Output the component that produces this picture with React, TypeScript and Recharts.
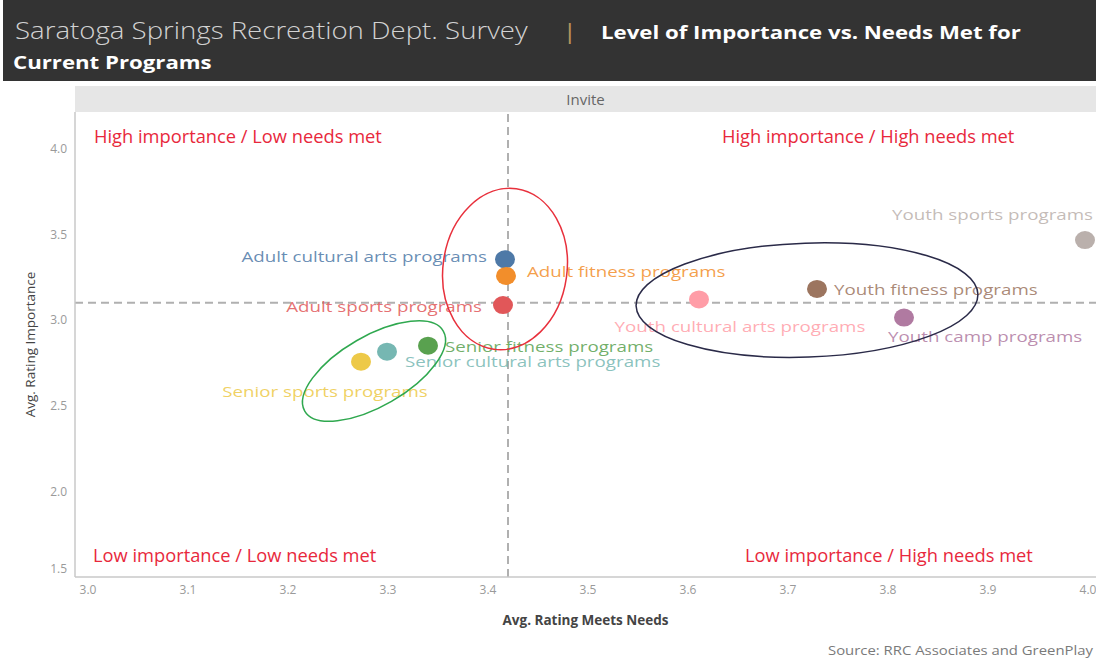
import React from 'react';
import { ScatterChart, Scatter, XAxis, YAxis, ReferenceLine, ReferenceDot } from 'recharts';

const programs = [
  'Adult cultural arts programs',
  'Adult fitness programs',
  'Adult sports programs',
  'Senior fitness programs',
  'Senior cultural arts programs',
  'Senior sports programs',
  'Youth cultural arts programs',
  'Youth fitness programs',
  'Youth camp programs',
  'Youth sports programs',
];
const meetsNeeds = [3.417, 3.418, 3.415, 3.34, 3.299, 3.273, 3.611, 3.729, 3.816, 3.997];
const importance = [3.353, 3.256, 3.086, 2.849, 2.814, 2.756, 3.119, 3.18, 3.013, 3.465];
const dotColors = ['#4e79a7', '#f28e2b', '#e15759', '#59a14f', '#76b7b2', '#edc948', '#ff9da7', '#9c755f', '#b07aa1', '#bab0ac'];

const xTicks = [3.0, 3.1, 3.2, 3.3, 3.4, 3.5, 3.6, 3.7, 3.8, 3.9, 4.0];
const yTicks = [1.5, 2.0, 2.5, 3.0, 3.5, 4.0];
const avgMeetsNeeds = 3.42;
const avgImportance = 3.1;

// circled groups: adult, senior, youth
const groupX = [3.417, 3.286, 3.719];
const groupY = [3.296, 2.701, 3.115];

const data = programs.map((name, i) => ({ name, x: meetsNeeds[i], y: importance[i], i }));

// label placement relative to each dot (px)
const labelPos: Record<string, { dx: number; dy: number; anchor: 'start' | 'middle' | 'end' }> = {
  'Adult cultural arts programs': { dx: -18, dy: -3, anchor: 'end' },
  'Adult fitness programs': { dx: 21, dy: -5, anchor: 'start' },
  'Adult sports programs': { dx: -21, dy: 1, anchor: 'end' },
  'Senior fitness programs': { dx: 17, dy: 1, anchor: 'start' },
  'Senior cultural arts programs': { dx: 18, dy: 10, anchor: 'start' },
  'Senior sports programs': { dx: -36, dy: 30, anchor: 'middle' },
  'Youth cultural arts programs': { dx: 41, dy: 27, anchor: 'middle' },
  'Youth fitness programs': { dx: 17, dy: 0, anchor: 'start' },
  'Youth camp programs': { dx: -16, dy: 19, anchor: 'start' },
  'Youth sports programs': { dx: 8, dy: -26, anchor: 'end' },
};

const ellipseStyle = [
  { rx: 62, ry: 81, rot: 8, stroke: '#e8303c' },
  { rx: 80, ry: 35, rot: -30, stroke: '#2fa84f' },
  { rx: 171, ry: 57, rot: -2, stroke: '#2a2a48' },
];

const sans = '"Open Sans", sans-serif';
const tickFont = { fontFamily: sans, fontSize: 12, fill: '#9a9a9a' };

function ProgramDot(props: any) {
  const { cx, cy, payload } = props;
  const p = labelPos[payload.name];
  const c = dotColors[payload.i];
  return (
    <g>
      <ellipse cx={cx} cy={cy} rx={10} ry={9} fill={c} />
      <text
        transform={`translate(${cx + p.dx},${cy + p.dy}) scale(1.25,1)`}
        textAnchor={p.anchor}
        dominantBaseline="central"
        fill={c}
        fillOpacity={0.85}
        style={{ fontFamily: sans, fontSize: 15 }}
      >
        {payload.name}
      </text>
    </g>
  );
}

function groupShape(k: number) {
  return (props: any) => {
    const s = ellipseStyle[k];
    return (
      <ellipse
        cx={props.cx}
        cy={props.cy}
        rx={s.rx}
        ry={s.ry}
        fill="none"
        stroke={s.stroke}
        strokeWidth={1.5}
        transform={`rotate(${s.rot} ${props.cx} ${props.cy})`}
      />
    );
  };
}

function YTick(props: any) {
  const { x, y, payload } = props;
  const shift = payload.value === 1.5 ? -9 : 0;
  return (
    <text x={x} y={y + shift} textAnchor="end" dominantBaseline="central" style={tickFont}>
      {payload.value.toFixed(1)}
    </text>
  );
}

const quad = { position: 'absolute' as const, color: '#e8283c', fontFamily: 'Open Sans', fontSize: 18.3, whiteSpace: 'nowrap' as const };

export default function App() {
  return (
    <div style={{ position: 'absolute', left: 0, top: 0, width: 1096, height: 659, background: '#fff', overflow: 'hidden' }}>
      <div style={{ position: 'absolute', left: 3, top: 0, width: 1093, height: 81, background: '#333333' }}>
        <div style={{ position: 'absolute', left: 12, top: 14, whiteSpace: 'nowrap', fontFamily: 'Open Sans', transform: 'scaleX(1.2)', transformOrigin: '0 0' }}>
          <span style={{ color: '#d2d2d2', fontSize: 23, fontWeight: 300 }}>Saratoga Springs Recreation Dept. Survey</span>
          <span style={{ color: '#b8945c', fontSize: 22, margin: '0 20px 0 29px' }}>|</span>
          <span style={{ color: '#ffffff', fontSize: 18.5, fontWeight: 700 }}>Level of Importance vs. Needs Met for</span>
        </div>
        <div style={{ position: 'absolute', left: 10, top: 49, color: '#fff', fontFamily: 'Open Sans', fontSize: 18.5, fontWeight: 700, whiteSpace: 'nowrap', transform: 'scaleX(1.2)', transformOrigin: '0 0' }}>
          Current Programs
        </div>
      </div>
      <div
        style={{
          position: 'absolute', left: 75, top: 86, width: 1021, height: 26, background: '#e6e6e6',
          display: 'flex', alignItems: 'center', justifyContent: 'center',
          fontFamily: 'Open Sans', fontSize: 15, color: '#666',
        }}
      >
        Invite
      </div>
      <div style={{ position: 'absolute', left: 0, top: 0 }}>
        <ScatterChart width={1096} height={659} margin={{ top: 112, right: 0, bottom: 32, left: 30 }}>
          <XAxis
            type="number"
            dataKey="x"
            domain={[2.987, 4.008]}
            ticks={xTicks}
            tickFormatter={(v: number) => v.toFixed(1)}
            tickLine={false}
            axisLine={{ stroke: '#c8c8c8', strokeWidth: 1.5 }}
            tick={tickFont}
            height={50}
            allowDataOverflow
            label={{
              value: 'Avg. Rating Meets Needs',
              position: 'insideBottom',
              offset: 2,
              style: { fontFamily: sans, fontSize: 13.5, fill: '#444', fontWeight: 700 },
            }}
          />
          <YAxis
            type="number"
            dataKey="y"
            domain={[1.5, 4.212]}
            ticks={yTicks}
            tickLine={false}
            axisLine={{ stroke: '#c8c8c8', strokeWidth: 1.5 }}
            tick={<YTick />}
            width={45}
            allowDataOverflow
            label={{
              value: 'Avg. Rating Importance',
              angle: -90,
              position: 'insideLeft',
              offset: 0,
              textAnchor: 'middle',
              style: { fontFamily: sans, fontSize: 13.5, fill: '#444', textAnchor: 'middle' },
            }}
          />
          <ReferenceLine x={avgMeetsNeeds} stroke="#b0b0b0" strokeWidth={2} strokeDasharray="8 5" />
          <ReferenceLine y={avgImportance} stroke="#b0b0b0" strokeWidth={2} strokeDasharray="8 5" />
          <Scatter data={data} shape={ProgramDot} isAnimationActive={false} />
          {groupX.map((gx, k) => (
            <ReferenceDot key={k} x={gx} y={groupY[k]} shape={groupShape(k)} ifOverflow="visible" />
          ))}
        </ScatterChart>
      </div>
      <div style={{ ...quad, left: 94, top: 123 }}>High importance / Low needs met</div>
      <div style={{ ...quad, left: 722, top: 123 }}>High importance / High needs met</div>
      <div style={{ ...quad, left: 93, top: 542 }}>Low importance / Low needs met</div>
      <div style={{ ...quad, left: 745, top: 542 }}>Low importance / High needs met</div>
      <div
        style={{
          position: 'absolute', left: 828, top: 642, fontFamily: sans, fontSize: 12.5,
          color: '#7a7a7a', whiteSpace: 'nowrap', transform: 'scaleX(1.19)', transformOrigin: '0 0',
        }}
      >
        Source: RRC Associates and GreenPlay
      </div>
    </div>
  );
}
